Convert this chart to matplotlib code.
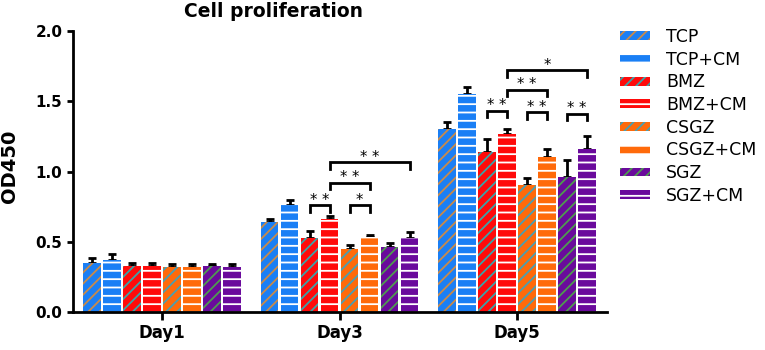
import numpy as np
import matplotlib.pyplot as plt

plt.rcParams['font.family'] = ['DejaVu Sans']
plt.rcParams['hatch.linewidth'] = 1.3

days = ['Day1', 'Day3', 'Day5']
groups = ['TCP', 'TCP+CM', 'BMZ', 'BMZ+CM', 'CSGZ', 'CSGZ+CM', 'SGZ', 'SGZ+CM']

# mean OD450 per group, one row per day
day1 = [0.35, 0.37, 0.33, 0.33, 0.32, 0.32, 0.33, 0.32]
day3 = [0.64, 0.76, 0.53, 0.66, 0.45, 0.535, 0.465, 0.53]
day5 = [1.30, 1.55, 1.14, 1.27, 0.905, 1.10, 0.96, 1.16]

err1 = [0.035, 0.045, 0.02, 0.02, 0.02, 0.02, 0.01, 0.02]
err3 = [0.02, 0.04, 0.05, 0.025, 0.025, 0.01, 0.025, 0.04]
err5 = [0.05, 0.05, 0.09, 0.035, 0.05, 0.06, 0.12, 0.09]

face_colors = ['#1a7ff5', '#1a7ff5', '#ff0a0a', '#ff0a0a',
               '#ff6a0a', '#ff6a0a', '#6a0a9c', '#6a0a9c']
hatch_colors = ['#c88a4a', 'white', '#3aa3a8', 'white',
                '#4a9fb0', 'white', '#4f9b4f', 'white']
hatches = ['///', '--', '///', '--', '///', '--', '///', '--']

# significance: (day index, group a, group b, bracket height, label)
sig = [
    (1, 2, 3, 0.76, '* *'),
    (1, 4, 5, 0.76, '*'),
    (1, 3, 5, 0.92, '* *'),
    (1, 3, 7, 1.065, '* *'),
    (2, 2, 3, 1.43, '* *'),
    (2, 4, 5, 1.42, '* *'),
    (2, 6, 7, 1.41, '* *'),
    (2, 3, 5, 1.58, '* *'),
    (2, 3, 7, 1.72, '*'),
]

means = np.array([day1, day3, day5])
errs = np.array([err1, err3, err5])

fig = plt.figure(figsize=(7.65, 3.5), dpi=100)
ax = fig.add_axes([0.095, 0.1086, 0.698, 0.8028])

step = 0.1127
width = 0.1
xc = np.arange(len(days))

handles = []
for i, g in enumerate(groups):
    xs = xc + (i - 3.5) * step
    b = ax.bar(xs, means[:, i], width, color=face_colors[i], edgecolor=hatch_colors[i],
               hatch=hatches[i], linewidth=0, label=g, zorder=2)
    handles.append(b)
    ax.errorbar(xs, means[:, i], yerr=[np.zeros(3), errs[:, i]], fmt='none',
                ecolor='black', elinewidth=2, capsize=3, capthick=2, zorder=1)

for d, a, b, h, lab in sig:
    xa = xc[d] + (a - 3.5) * step
    xb = xc[d] + (b - 3.5) * step
    ax.plot([xa, xa, xb, xb], [h - 0.045, h, h, h - 0.045], color='black',
            lw=2, solid_joinstyle='miter', zorder=3)
    ax.text((xa + xb) / 2, h + 0.005, lab, ha='center', va='baseline',
            fontsize=10.5, zorder=3)

ax.set_xlim(-0.503, 2.504)
ax.set_ylim(0, 2.0)
ax.set_yticks([0.0, 0.5, 1.0, 1.5, 2.0])
ax.set_yticklabels(['0.0', '0.5', '1.0', '1.5', '2.0'])
ax.set_xticks(xc)
ax.set_xticklabels(days)
for s in ['top', 'right']:
    ax.spines[s].set_visible(False)
for s in ['left', 'bottom']:
    ax.spines[s].set_linewidth(2)
ax.tick_params(axis='y', width=2, length=4.5, pad=3, labelsize=11)
ax.tick_params(axis='x', width=2, length=5.5, pad=3, labelsize=12)
for t in ax.get_xticklabels() + ax.get_yticklabels():
    t.set_fontweight('bold')

fig.text(10 / 765, 0.526, 'OD450', rotation=90, ha='center', va='center',
         fontsize=14, fontweight='bold')
fig.text(273 / 765, 0.966, 'Cell proliferation', ha='center', va='center',
         fontsize=13.5, fontweight='bold')

fig.legend(handles=handles, loc='upper left', bbox_to_anchor=(0.811, 0.92),
           frameon=False, fontsize=12.5, handlelength=1.72, handleheight=0.4,
           handletextpad=0.9, labelspacing=0.27, borderpad=0, borderaxespad=0)

fig.savefig('out.png', dpi=100)
